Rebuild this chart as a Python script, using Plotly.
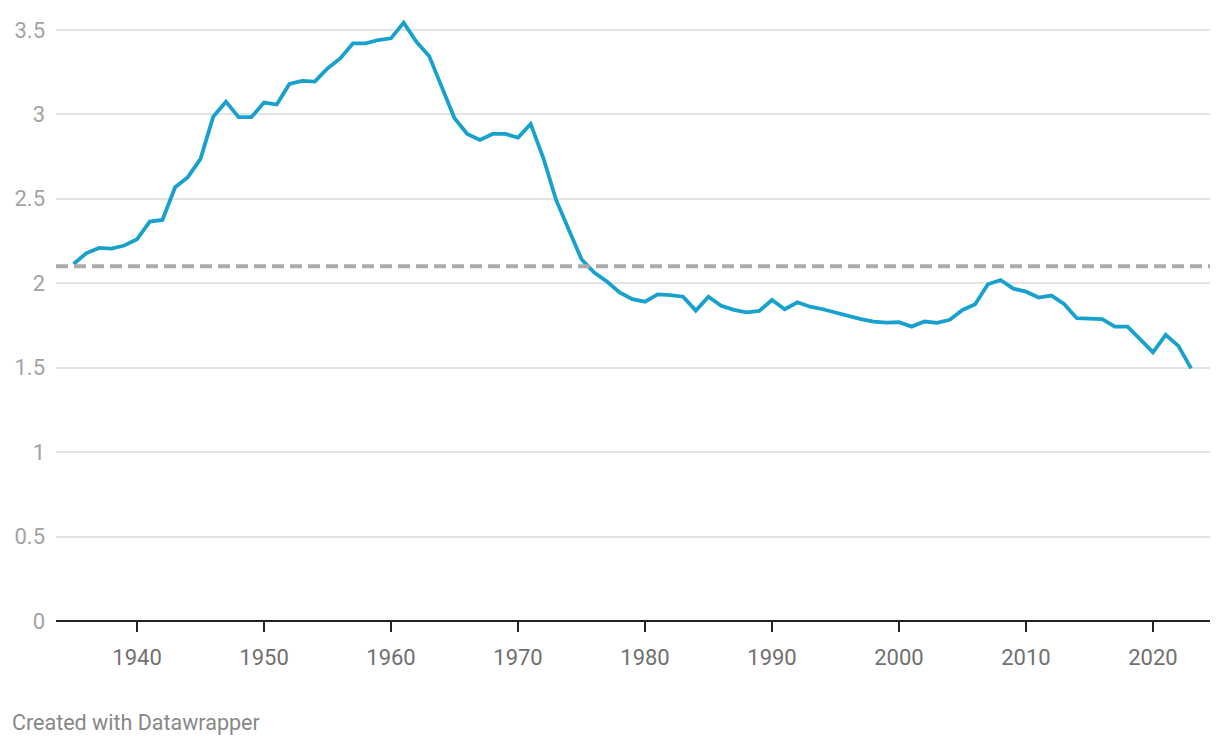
import plotly.graph_objects as go

years = list(range(1935, 2024))
fertility = [
    2.114, 2.177, 2.209, 2.205, 2.223, 2.26, 2.365, 2.375, 2.568, 2.628,
    2.736, 2.986, 3.075, 2.983, 2.983, 3.07, 3.058, 3.18, 3.198, 3.194,
    3.272, 3.331, 3.42, 3.42, 3.44, 3.45, 3.543, 3.43, 3.346, 3.16,
    2.977, 2.884, 2.848, 2.884, 2.884, 2.862, 2.943, 2.74, 2.493, 2.316,
    2.142, 2.063, 2.01, 1.946, 1.906, 1.891, 1.934, 1.93, 1.92, 1.838,
    1.92, 1.867, 1.842, 1.828, 1.836, 1.901, 1.846, 1.887, 1.861, 1.846,
    1.826, 1.802, 1.787, 1.773, 1.767, 1.769, 1.743, 1.773, 1.765, 1.783,
    1.842, 1.875, 1.994, 2.019, 1.968, 1.95, 1.915, 1.927, 1.877, 1.793,
    1.793, 1.788, 1.743, 1.743, 1.668, 1.591, 1.694, 1.629, 1.496,
]
replacement_level = 2.1
y_ticks = [0, 0.5, 1, 1.5, 2, 2.5, 3, 3.5]
y_tick_labels = ["0", "0.5", "1", "1.5", "2", "2.5", "3", "3.5"]
x_ticks = [1940, 1950, 1960, 1970, 1980, 1990, 2000, 2010, 2020]

fig = go.Figure()
fig.add_trace(go.Scatter(
    x=years, y=fertility, mode="lines",
    line=dict(color="#18a1cd", width=3.8),
    hoverinfo="x+y", showlegend=False,
))

fig.add_shape(type="line", xref="paper", x0=0, x1=1, yref="y",
              y0=replacement_level, y1=replacement_level,
              line=dict(color="#aaaaaa", width=4, dash="12px,6px"), layer="above")

fig.update_layout(
    width=1220, height=748,
    margin=dict(l=56, r=10, t=13, b=127),
    paper_bgcolor="white", plot_bgcolor="white",
    font=dict(family="Roboto, sans-serif"),
    xaxis=dict(
        range=[1933.62, 2024.49], tickvals=x_ticks,
        ticks="outside", ticklen=10, tickwidth=2, tickcolor="#222",
        tickfont=dict(size=22, color="#707070"),
        ticklabelstandoff=7,
        showgrid=False, zeroline=False, showline=False,
    ),
    yaxis=dict(
        range=[0, 3.6], tickvals=y_ticks, ticktext=y_tick_labels,
        tickfont=dict(size=22, color="#a3a3a3"),
        showgrid=True, gridcolor="#e3e3e3", gridwidth=1.5,
        zeroline=True, zerolinecolor="#222", zerolinewidth=2,
        ticklabelstandoff=10, showline=False,
    ),
    annotations=[dict(
        text="Created with Datawrapper", xref="paper", yref="paper",
        x=-46/1154, y=-(723-621)/608, xanchor="left", yanchor="middle",
        showarrow=False, font=dict(size=21.5, color="#888888"),
    )],
)

fig.write_html("out.html")
